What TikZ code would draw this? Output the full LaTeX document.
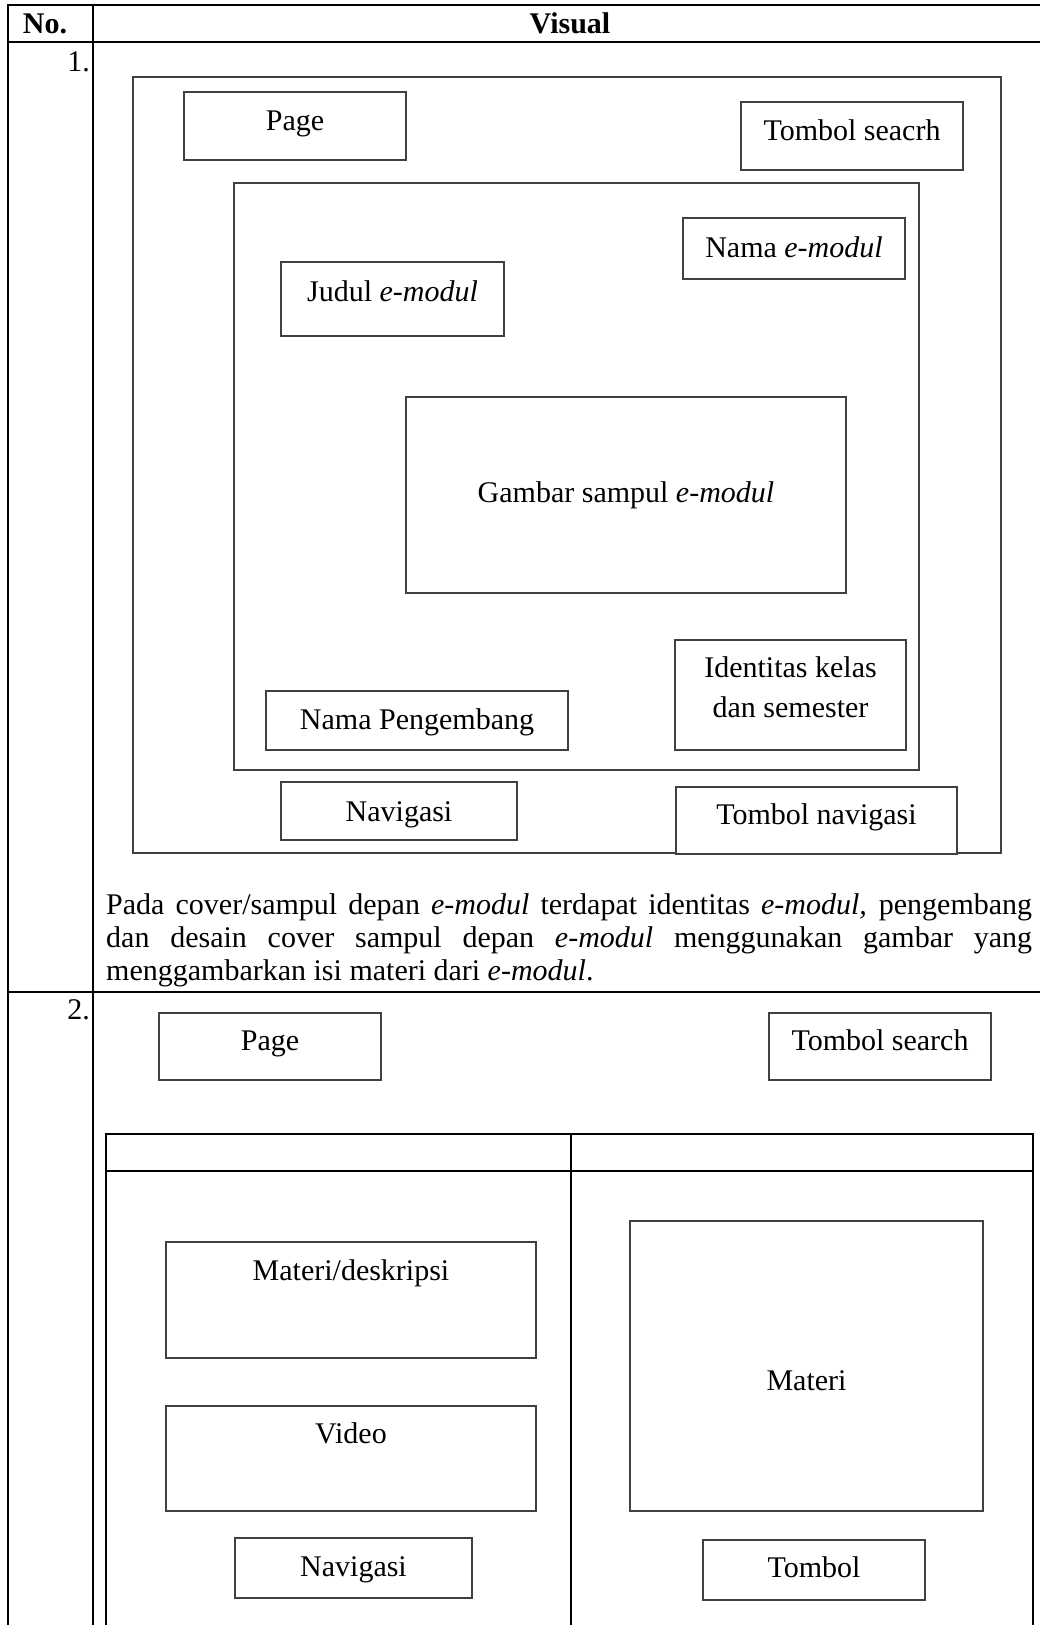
\documentclass[tikz,border=0pt]{standalone}
\usepackage{fontspec}
\setmainfont{Liberation Serif}
\begin{document}
\begin{tikzpicture}[x=1pt,y=-1pt,
  tline/.style={line width=1.4pt,draw=black},
  wbox/.style={draw=black!75,line width=1.2pt,fill=white,inner sep=0pt,outer sep=0pt,anchor=north west},
  txt/.style={inner sep=0pt,anchor=base,font=\fontsize{30}{34.5}\selectfont},
  hdr/.style={txt,font=\fontsize{30}{34.5}\selectfont\bfseries}]
\useasboundingbox (0,0) rectangle (1040,1625);
\clip (0,0) rectangle (1040,1625);
\fill[white] (0,0) rectangle (1040,1625);
% main table
\draw[tline] (8,1640) -- (8,5) -- (1060,5);
\draw[tline] (8,42) -- (1060,42);
\draw[tline] (8,992) -- (1060,992);
\draw[tline] (93,5) -- (93,1640);
\node[hdr] (hno) at (45,33) {No.};
\node[hdr] (hvis) at (570,33) {Visual};
\node[txt,anchor=base east] (n1) at (90,71) {1.};
\node[txt,anchor=base east] (n2) at (90,1019) {2.};
% ---- row 1
\node[wbox,minimum width=868pt,minimum height=776pt] (outer1) at (133,77) {};
\node[wbox,minimum width=222pt,minimum height=68pt] (page1) at (184,92) {};
\node[txt] (tpage1) at (295,130) {Page};
\node[wbox,minimum width=222pt,minimum height=68pt] (search1) at (741,102) {};
\node[txt] (tsearch1) at (852,140) {Tombol seacrh};
\node[wbox,minimum width=685pt,minimum height=587pt] (inner1) at (234,183) {};
\node[wbox,minimum width=222pt,minimum height=61pt] (nama) at (683,218) {};
\node[txt] (tnama) at (794,257) {Nama \textit{e-modul}};
\node[wbox,minimum width=223pt,minimum height=74pt] (judul) at (281,262) {};
\node[txt] (tjudul) at (392.5,301) {Judul \textit{e-modul}};
\node[wbox,minimum width=440pt,minimum height=196pt] (gambar) at (406,397) {};
\node[txt] (tgambar) at (626,502) {Gambar sampul \textit{e-modul}};
\node[wbox,minimum width=231pt,minimum height=110pt] (ident) at (675,640) {};
\node[txt] (tident1) at (790.5,677) {Identitas kelas};
\node[txt] (tident2) at (790.5,717) {dan semester};
\node[wbox,minimum width=302pt,minimum height=59pt] (peng) at (266,691) {};
\node[txt] (tpeng) at (417,729) {Nama Pengembang};
\node[wbox,minimum width=236pt,minimum height=58pt] (nav1) at (281,782) {};
\node[txt] (tnav1) at (399,821) {Navigasi};
\node[wbox,minimum width=281pt,minimum height=67pt] (tnavbox) at (676,787) {};
\node[txt] (ttnav) at (816.5,824) {Tombol navigasi};
\node[txt,anchor=base west] (p1) at (106,914) {\makebox[926pt][s]{Pada cover/sampul depan \textit{e-modul} terdapat identitas \textit{e-modul,} pengembang}};
\node[txt,anchor=base west] (p2) at (106,947) {\makebox[926pt][s]{dan desain cover sampul depan \textit{e-modul} menggunakan gambar yang}};
\node[txt,anchor=base west] (p3) at (106,980) {menggambarkan isi materi dari \textit{e-modul}.};
% ---- row 2
\node[wbox,minimum width=222pt,minimum height=67pt] (page2) at (159,1013) {};
\node[txt] (tpage2) at (270,1050) {Page};
\node[wbox,minimum width=222pt,minimum height=67pt] (search2) at (769,1013) {};
\node[txt] (tsearch2) at (880,1050) {Tombol search};
\draw[tline,line width=1.2pt] (106,1640) -- (106,1134) -- (1033,1134) -- (1033,1640);
\draw[tline,line width=1.2pt] (106,1171) -- (1033,1171);
\draw[tline,line width=1.2pt] (571,1134) -- (571,1640);
\node[wbox,minimum width=370pt,minimum height=116pt] (mdesk) at (166,1242) {};
\node[txt] (tmdesk) at (351,1280) {Materi/deskripsi};
\node[wbox,minimum width=370pt,minimum height=105pt] (video) at (166,1406) {};
\node[txt] (tvideo) at (351,1443) {Video};
\node[wbox,minimum width=353pt,minimum height=290pt] (materi) at (630,1221) {};
\node[txt] (tmateri) at (806.5,1390) {Materi};
\node[wbox,minimum width=237pt,minimum height=60pt] (nav2) at (235,1538) {};
\node[txt] (tnav2) at (353.5,1576) {Navigasi};
\node[wbox,minimum width=222pt,minimum height=60pt] (tombol2) at (703,1540) {};
\node[txt] (ttombol2) at (814,1577) {Tombol};
\end{tikzpicture}
\end{document}
